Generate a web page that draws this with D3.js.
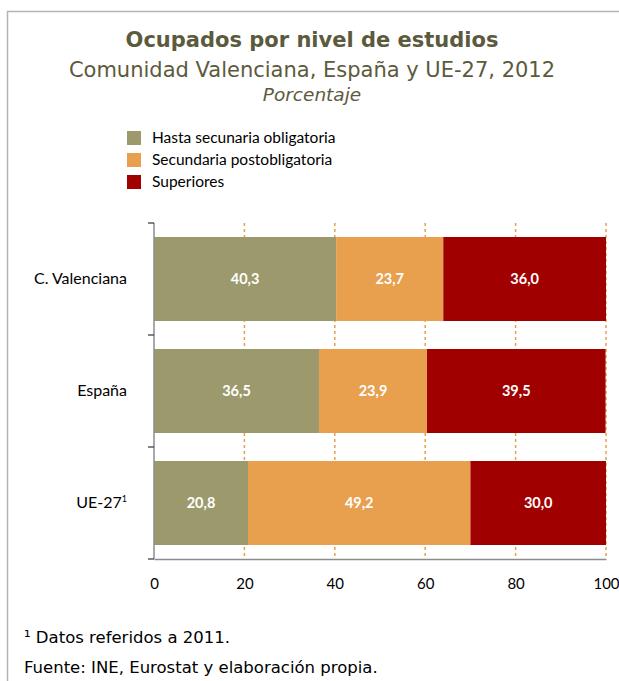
<!DOCTYPE html>
<html>
<head>
<meta charset="utf-8">
<script src="https://cdn.jsdelivr.net/npm/d3@7"></script>
<style>
  body { margin: 0; background: #fff; }
</style>
</head>
<body>
<div id="chart"></div>
<script>
// datos
const regiones = ["C. Valenciana", "España", "UE-27"];
const niveles = ["Hasta secunaria obligatoria", "Secundaria postobligatoria", "Superiores"];
const hastaObligatoria = [40.3, 36.5, 20.8];
const postobligatoria = [23.7, 23.9, 49.2];
const superiores = [36.0, 39.5, 30.0];
const ticksX = [0, 20, 40, 60, 80, 100];

const colores = ["#9c9a6c", "#e8a04e", "#a00000"];
const W = 619, H = 681;

const svg = d3.select("#chart").append("svg")
    .attr("width", W)
    .attr("height", H);

// marco
svg.append("path")
    .attr("d", "M7.5," + H + "V11.5H" + W)
    .attr("fill", "none")
    .attr("stroke", "#b4b4b4")
    .attr("stroke-width", 1.5);

// títulos
const tituloColor = "#5c5a3c";
const fuenteTitulo = "'DejaVu Sans', sans-serif";
svg.append("text")
    .attr("x", 312).attr("y", 47)
    .attr("text-anchor", "middle")
    .attr("fill", tituloColor)
    .style("font-family", fuenteTitulo)
    .style("font-weight", "bold")
    .style("font-size", "21px")
    .text("Ocupados por nivel de estudios");
svg.append("text")
    .attr("x", 312).attr("y", 77)
    .attr("text-anchor", "middle")
    .attr("fill", tituloColor)
    .style("font-family", fuenteTitulo)
    .style("font-size", "21px")
    .text("Comunidad Valenciana, España y UE-27, 2012");
svg.append("text")
    .attr("x", 312).attr("y", 101)
    .attr("text-anchor", "middle")
    .attr("fill", tituloColor)
    .style("font-family", fuenteTitulo)
    .style("font-style", "italic")
    .style("font-size", "18.5px")
    .text("Porcentaje");

// leyenda
const leyenda = svg.append("g")
    .style("font-family", "Lato, 'Open Sans', sans-serif")
    .style("font-size", "15.5px");
niveles.forEach((n, i) => {
    const row = leyenda.append("g").attr("transform", `translate(127, ${131 + i * 22})`);
    row.append("rect").attr("width", 14).attr("height", 14).attr("fill", colores[i]);
    row.append("text").attr("x", 25).attr("y", 12).attr("fill", "#000").text(n);
});

// escalas
const x = d3.scaleLinear().domain([0, 100]).range([154, 606]);
const y = d3.scaleBand().domain(regiones).range([223, 559])
    .paddingInner(0.25).paddingOuter(0.125);

// rejilla
svg.append("g")
    .selectAll("line")
    .data(ticksX.slice(1))
    .join("line")
    .attr("x1", d => x(d)).attr("x2", d => x(d))
    .attr("y1", 223).attr("y2", 559)
    .attr("stroke", "#e8a04e")
    .attr("stroke-width", 1.5)
    .attr("stroke-dasharray", "3,3");

// barras apiladas
const tabla = regiones.map((r, i) => ({
    region: r,
    valores: [hastaObligatoria[i], postobligatoria[i], superiores[i]]
}));

const grupo = svg.append("g");
tabla.forEach(d => {
    let acum = 0;
    d.valores.forEach((v, j) => {
        const x0 = acum;
        acum += v;
        grupo.append("rect")
            .attr("x", x(x0))
            .attr("y", y(d.region))
            .attr("width", x(acum) - x(x0))
            .attr("height", y.bandwidth())
            .attr("fill", colores[j]);
        grupo.append("text")
            .attr("x", (x(x0) + x(acum)) / 2)
            .attr("y", y(d.region) + y.bandwidth() / 2 + 5)
            .attr("text-anchor", "middle")
            .attr("fill", "#fff")
            .style("font-family", "Lato, 'Open Sans', sans-serif")
            .style("font-weight", "bold")
            .style("font-size", "14.5px")
            .text(d3.format(".1f")(v).replace(".", ","));
    });
});

// ejes
const ejeX = svg.append("g")
    .attr("transform", "translate(0,559)")
    .call(d3.axisBottom(x).tickValues(ticksX).tickSize(0).tickPadding(19));
ejeX.select(".domain").attr("stroke", "#8c8c8c").attr("stroke-width", 1.5);
ejeX.selectAll("text")
    .style("font-family", "Lato, 'Open Sans', sans-serif")
    .style("font-size", "15px")
    .attr("fill", "#000");

const ejeY = svg.append("g").attr("transform", "translate(154,0)");
ejeY.append("line")
    .attr("y1", 223).attr("y2", 559)
    .attr("stroke", "#8c8c8c").attr("stroke-width", 1.5);
ejeY.selectAll(".tk")
    .data([223, 335, 447, 559])
    .join("line")
    .attr("class", "tk")
    .attr("x1", -6).attr("x2", 0)
    .attr("y1", d => d).attr("y2", d => d)
    .attr("stroke", "#333").attr("stroke-width", 1.2);

const etiquetas = ejeY.selectAll(".lab")
    .data(regiones)
    .join("text")
    .attr("class", "lab")
    .attr("x", -27)
    .attr("y", d => y(d) + y.bandwidth() / 2 + 5)
    .attr("text-anchor", "end")
    .attr("fill", "#000")
    .style("font-family", "Lato, 'Open Sans', sans-serif")
    .style("font-size", "16px")
    .text(d => d);
etiquetas.filter(d => d === "UE-27")
    .append("tspan")
    .attr("dy", -6)
    .style("font-size", "9px")
    .text("1");

// notas
const notas = svg.append("g")
    .style("font-family", fuenteTitulo)
    .style("font-size", "16.5px")
    .attr("fill", "#000");
notas.append("text").attr("x", 24).attr("y", 643).text("¹ Datos referidos a 2011.");
notas.append("text").attr("x", 24).attr("y", 673).text("Fuente: INE, Eurostat y elaboración propia.");
</script>
</body>
</html>
